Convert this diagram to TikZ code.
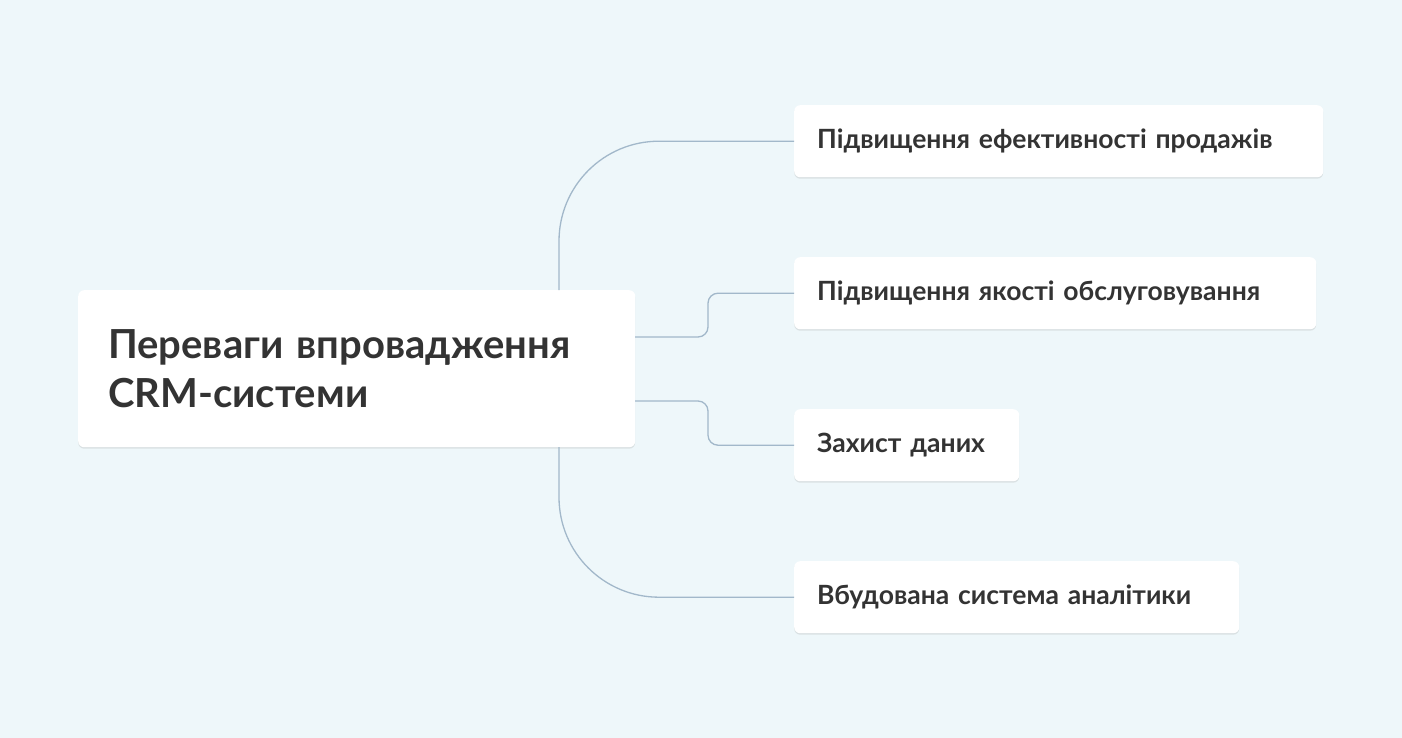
\documentclass[tikz,border=0pt]{standalone}
\usepackage{fontspec}
\setmainfont{Lato}
\usetikzlibrary{shadows}
\definecolor{bg}{HTML}{EEF7FA}
\definecolor{ln}{HTML}{A2B8CA}
\definecolor{tx}{HTML}{333333}
\tikzset{x=1pt,y=-1pt,
 box/.style={fill=white,rounded corners=6pt,draw=none,drop shadow={opacity=0.18,shadow xshift=0pt,shadow yshift=-1.5pt},text=tx,font=\bfseries\fontsize{26.5}{30}\selectfont,anchor=north west,inner xsep=23pt,inner ysep=0pt,minimum height=72pt,align=left},
 con/.style={draw=ln,line width=1.3pt}}
\begin{document}
\begin{tikzpicture}
\fill[bg] (0,0) rectangle (1402,738);
\useasboundingbox (0,0) rectangle (1402,738);
\node[box,minimum width=557pt,minimum height=157pt,inner xsep=30pt,text width=497pt,font=\bfseries\fontsize{40}{49}\selectfont] (m) at (78,290) {Переваги впровадження\\CRM-системи};
\node[box,text width=483pt] (c1) at (794,105) {Підвищення ефективності продажів};
\node[box,text width=476pt] (c2) at (794,257) {Підвищення якості обслуговування};
\node[box,text width=179pt] (c3) at (794,409) {Захист даних};
\node[box,text width=399pt] (c4) at (794,561) {Вбудована система аналітики};
\coordinate (a1) at (559,290);
\coordinate (a4) at (559,447);
\coordinate (a2) at (635,337);
\coordinate (a3) at (635,401);
\draw[con,rounded corners=100pt] (a1) |- (c1.west);
\draw[con,rounded corners=100pt] (a4) |- (c4.west);
\draw[con,rounded corners=10pt] (a2) -- (708,337) |- (c2.west);
\draw[con,rounded corners=10pt] (a3) -- (708,401) |- (c3.west);
\end{tikzpicture}
\end{document}
